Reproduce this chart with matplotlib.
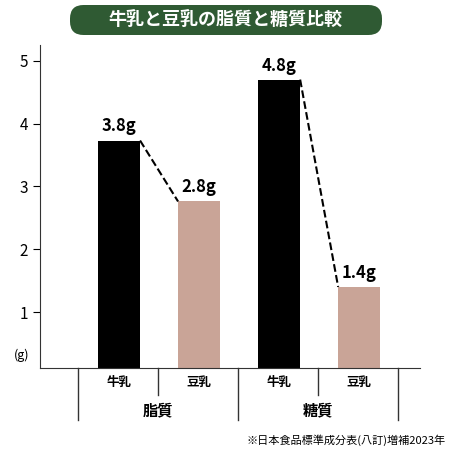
import matplotlib
matplotlib.use("Agg")
import matplotlib.pyplot as plt
from matplotlib.patches import FancyBboxPatch

plt.rcParams['font.family'] = ['Noto Sans CJK JP', 'DejaVu Sans']

groups = ["脂質", "糖質"]
items = ["牛乳", "豆乳", "牛乳", "豆乳"]
values = [3.73, 2.76, 4.7, 1.4]
labels = ["3.8g", "2.8g", "4.8g", "1.4g"]
colors = ["#000000", "#c9a497", "#000000", "#c9a497"]
title = "牛乳と豆乳の脂質と糖質比較"
source = "※日本食品標準成分表(八訂)増補2023年"

W = 450
fig = plt.figure(figsize=(4.5, 4.5), dpi=100)
ax = fig.add_axes([40/W, (W-368)/W, 380/W, (368-45)/W])
x = list(range(4))
bw = 42/80
ax.bar(x, values, width=bw, color=colors, bottom=0, zorder=2)
ax.set_ylim(0.11, 5.25)
ax.set_xlim(-79/80, 3.76)
for i, (v, l) in enumerate(zip(values, labels)):
    ax.text(i, v + 0.08, l, ha='center', va='bottom', fontsize=12, fontweight='bold')
for a, b in [(0, 1), (2, 3)]:
    ax.plot([a + bw/2, b - bw/2], [values[a], values[b]], ls='--', color='black', lw=1.5, zorder=3)
ax.set_yticks([1, 2, 3, 4, 5])
ax.tick_params(axis='y', labelsize=11, length=5)
ax.set_xticks([])
for s in ['top', 'right']:
    ax.spines[s].set_visible(False)
ax.spines['left'].set_color('#333333')
ax.spines['bottom'].set_color('#333333')
fig.text(22/W, 1-355/W, "(g)", fontsize=9, ha='center', va='center')

# category table below
def fx(px): return px / W
def fy(py): return 1 - py / W
for px, bottom in [(78, 420), (158, 395), (238, 420), (318, 395), (398, 420)]:
    fig.add_artist(plt.Line2D([fx(px), fx(px)], [fy(368), fy(bottom)], color='#333333', lw=1))
for i, it in enumerate(items):
    fig.text(fx(119 + 80*i), fy(382), it, ha='center', va='center', fontsize=9, fontweight='bold')
for j, g in enumerate(groups):
    fig.text(fx(158 + 160*j), fy(410), g, ha='center', va='center', fontsize=11, fontweight='bold')
fig.text(fx(446), fy(440), source, ha='right', va='center', fontsize=8)

box = FancyBboxPatch((fx(70), fy(35)), fx(312), 30/W, boxstyle="round,pad=0,rounding_size=0.03",
                     transform=fig.transFigure, facecolor='#2f5a33', edgecolor='none')
fig.add_artist(box)
fig.text(fx(226), fy(19), title, ha='center', va='center', fontsize=13, fontweight='bold', color='white')

fig.savefig("out.png", dpi=100)
